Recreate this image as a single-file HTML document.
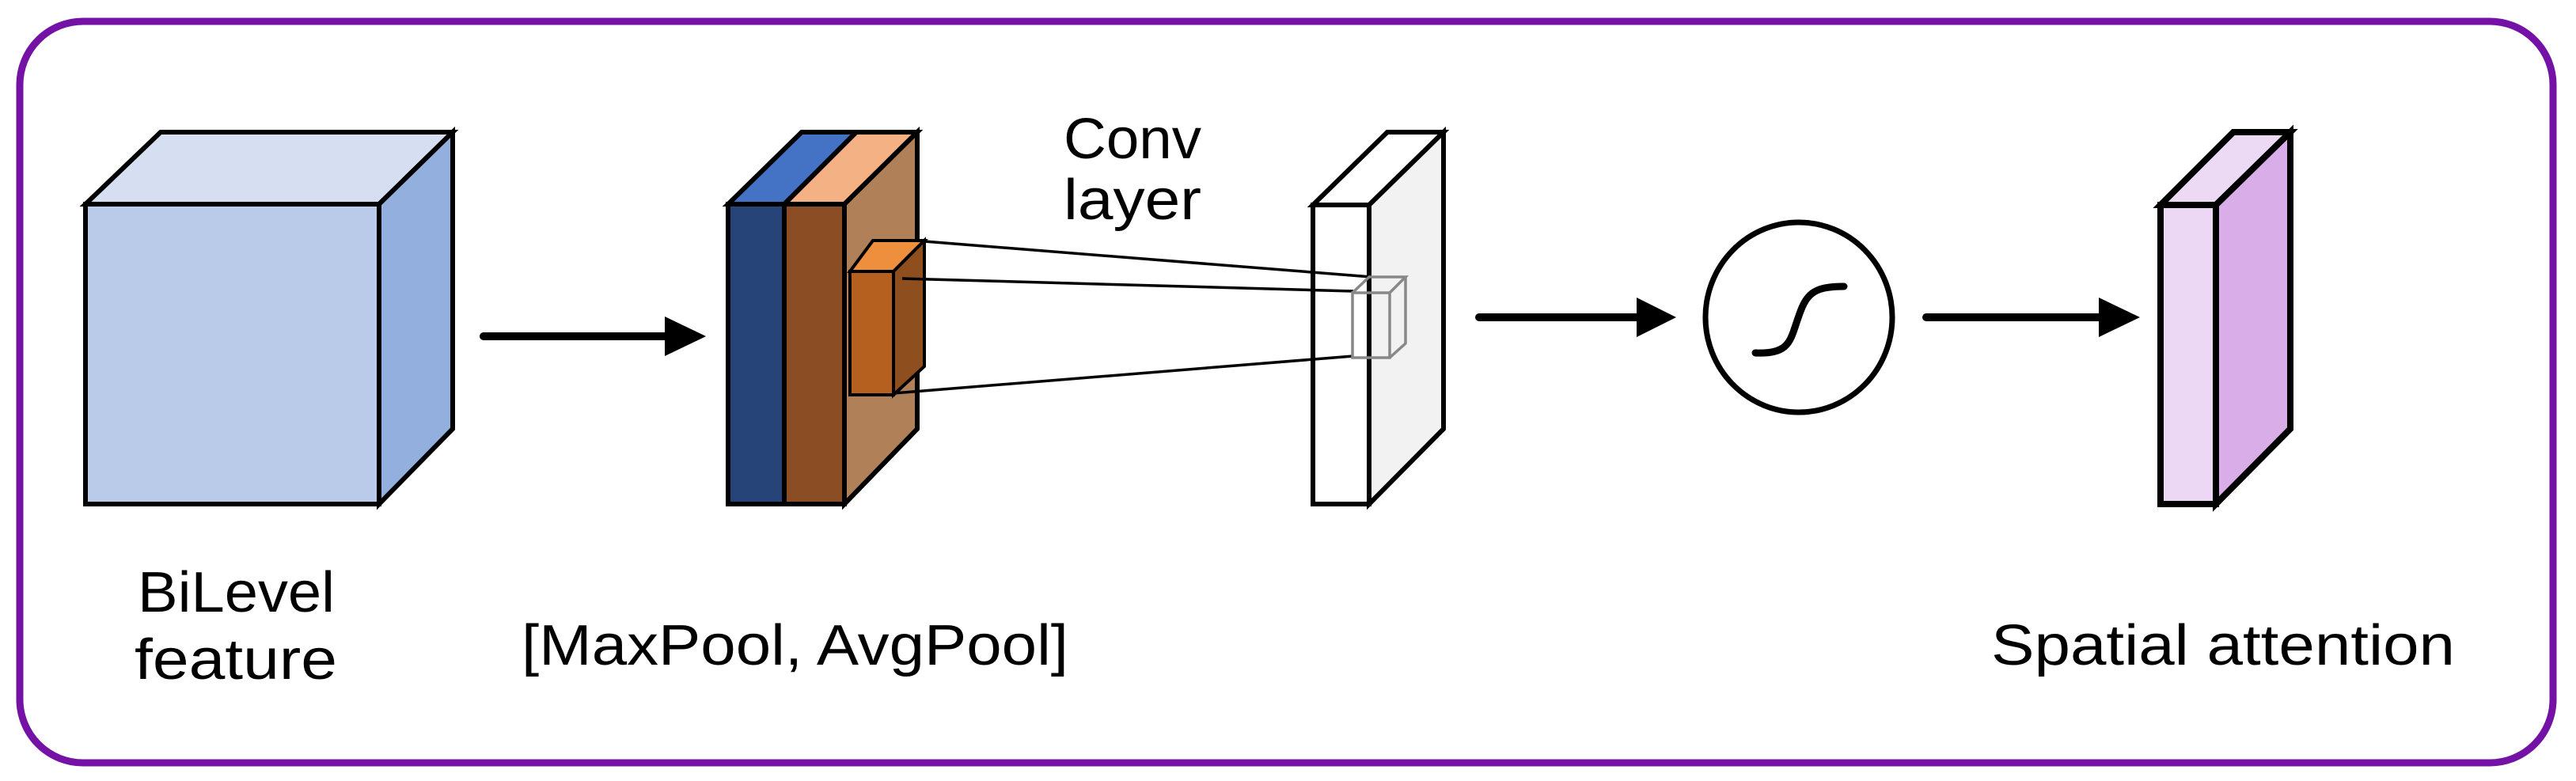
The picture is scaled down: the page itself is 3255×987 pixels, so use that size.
<!DOCTYPE html>
<html><head><meta charset="utf-8"><style>html,body{margin:0;padding:0;background:#fff}svg{display:block}</style></head>
<body>
<svg width="3255" height="987" viewBox="0 0 3255 987" xmlns="http://www.w3.org/2000/svg">
<rect x="25" y="27" width="3201" height="937" rx="80" ry="80" fill="#fff" stroke="#7412a6" stroke-width="9"/>
<g stroke="#000" stroke-width="6" stroke-linejoin="miter">
<!-- cube -->
<polygon points="108,258 203,167 572,167 479,258" fill="#d6dff2"/>
<polygon points="479,258 572,167 572,542 479,637" fill="#93afdd"/>
<rect x="108" y="258" width="371" height="379" fill="#b9cbe9"/>
<!-- blue slab -->
<polygon points="920,258 1013,167 1082,167 991,258" fill="#4472c4"/>
<rect x="920" y="258" width="71" height="379" fill="#264478"/>
<!-- brown slab -->
<polygon points="991,258 1082,167 1159,167 1067,258" fill="#f4b183"/>
<polygon points="1067,258 1159,167 1159,542 1067,637" fill="#b08058"/>
<rect x="991" y="258" width="76" height="379" fill="#8a4d24"/>
<!-- small orange cube -->
<polygon points="1074,343 1103,304 1168,304 1129,343" fill="#ed8f3c" stroke-width="4"/>
<polygon points="1129,343 1168,304 1168,463 1129,499" fill="#8e4e1e" stroke-width="4"/>
<rect x="1074" y="343" width="55" height="156" fill="#b5601f" stroke-width="4"/>
<!-- conv slab -->
<polygon points="1659,259 1753,167 1824,167 1730,259" fill="#fff"/>
<polygon points="1730,259 1824,167 1824,542 1730,637" fill="#f2f2f2"/>
<rect x="1659" y="259" width="71" height="378" fill="#fff"/>
</g>
<!-- connecting lines -->
<g stroke="#000" stroke-width="3.5">
<line x1="1168" y1="305" x2="1733" y2="350"/>
<line x1="1140" y1="352" x2="1710" y2="368"/>
<line x1="1129" y1="497" x2="1710" y2="450"/>
</g>
<!-- gray small cube -->
<g stroke="#888" stroke-width="3.5" fill="none">
<rect x="1709" y="370" width="47" height="82"/>
<polyline points="1709,370 1730,350 1776,350 1756,370"/>
<polyline points="1776,350 1776,434 1756,452"/>
</g>
<!-- arrows -->
<g stroke="#000" stroke-width="10" stroke-linecap="round">
<line x1="611" y1="425" x2="845" y2="425"/>
<line x1="1869" y1="401" x2="2072" y2="401"/>
<line x1="2434" y1="401" x2="2660" y2="401"/>
</g>
<polygon points="840,400 892,425 840,450" fill="#000"/>
<polygon points="2068,376 2118,401 2068,426" fill="#000"/>
<polygon points="2652,376 2704,401 2652,426" fill="#000"/>
<!-- sigmoid circle -->
<ellipse cx="2273" cy="401" rx="118" ry="120" fill="#fff" stroke="#000" stroke-width="7"/>
<path d="M2218,446 C2262,448 2262,430 2272,402 C2282,372 2290,362 2330,362" fill="none" stroke="#000" stroke-width="9" stroke-linecap="round"/>
<!-- purple slab -->
<g stroke="#000" stroke-width="8">
<polygon points="2730,259 2822,167 2894,167 2800,259" fill="#ecdaf4"/>
<polygon points="2800,259 2894,167 2894,542 2800,637" fill="#d9aee8"/>
<rect x="2730" y="259" width="70" height="378" fill="#ecd8f4"/>
</g>
<!-- text -->
<g font-family="Liberation Sans, sans-serif" font-size="72" fill="#000">
<text x="174" y="773" textLength="249" lengthAdjust="spacingAndGlyphs">BiLevel</text>
<text x="170" y="858" textLength="256" lengthAdjust="spacingAndGlyphs">feature</text>
<text x="659" y="840" textLength="691" lengthAdjust="spacingAndGlyphs">[MaxPool, AvgPool]</text>
<text x="1344" y="200" textLength="174" lengthAdjust="spacingAndGlyphs">Conv</text>
<text x="1344" y="277" textLength="174" lengthAdjust="spacingAndGlyphs">layer</text>
<text x="2516" y="840" textLength="586" lengthAdjust="spacingAndGlyphs">Spatial attention</text>
</g>
</svg>
</body></html>
